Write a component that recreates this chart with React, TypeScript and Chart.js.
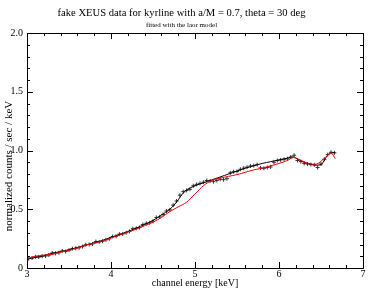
import React, { useEffect, useRef } from "react";
import { Chart, registerables } from "chart.js";

Chart.register(...registerables);

const titleText = "fake XEUS data for kyrline with a/M = 0.7, theta = 30 deg";
const subtitleText = "fitted with the laor model";
const xAxisLabel = "channel energy [keV]";
const yAxisLabel = "normalized counts / sec / keV";

// observed data (crosses)
const energies = [
  3.02, 3.06, 3.1, 3.14, 3.18, 3.22, 3.26, 3.3, 3.34, 3.38, 3.42, 3.46, 3.5, 3.54, 3.58, 3.62,
  3.66, 3.7, 3.74, 3.78, 3.82, 3.86, 3.9, 3.94, 3.98, 4.02, 4.06, 4.1, 4.14, 4.18, 4.22, 4.26,
  4.3, 4.34, 4.38, 4.42, 4.46, 4.5, 4.54, 4.58, 4.62, 4.66, 4.7, 4.74, 4.78, 4.82, 4.86, 4.9,
  4.94, 4.98, 5.02, 5.06, 5.1, 5.14, 5.18, 5.22, 5.26, 5.3, 5.34, 5.38, 5.42, 5.46, 5.5, 5.54,
  5.58, 5.62, 5.66, 5.7, 5.74, 5.78, 5.82, 5.86, 5.9, 5.94, 5.98, 6.02, 6.06, 6.1, 6.14, 6.18,
  6.22, 6.26, 6.3, 6.34, 6.38, 6.42, 6.46, 6.5, 6.54, 6.58, 6.62, 6.66,
];
const counts = [
  0.08, 0.085, 0.095, 0.093, 0.1, 0.102, 0.11, 0.128, 0.125, 0.13, 0.145, 0.14, 0.152, 0.165, 0.168, 0.172,
  0.182, 0.198, 0.2, 0.205, 0.225, 0.222, 0.228, 0.24, 0.248, 0.268, 0.27, 0.288, 0.29, 0.3, 0.312, 0.335,
  0.338, 0.345, 0.37, 0.38, 0.385, 0.398, 0.43, 0.435, 0.455, 0.485, 0.495, 0.535, 0.57, 0.62, 0.65, 0.66,
  0.67, 0.7, 0.712, 0.72, 0.73, 0.745, 0.74, 0.735, 0.745, 0.755, 0.752, 0.76, 0.81, 0.82, 0.822, 0.84,
  0.85, 0.858, 0.868, 0.872, 0.88, 0.852, 0.848, 0.855, 0.86, 0.9, 0.915, 0.92, 0.925, 0.93, 0.945, 0.96,
  0.915, 0.905, 0.89, 0.885, 0.88, 0.878, 0.855, 0.885, 0.925, 0.965, 0.985, 0.98,
];

// black curve
const traceEnergies = [
  3.0, 3.1, 3.2, 3.3, 3.4, 3.5, 3.6, 3.7, 3.8, 3.9, 4.0, 4.1, 4.2, 4.3, 4.4, 4.5, 4.6, 4.7, 4.75,
  4.8, 4.85, 4.9, 5.0, 5.1, 5.2, 5.3, 5.4, 5.5, 5.6, 5.7, 5.8, 5.9, 6.0, 6.1, 6.17, 6.23, 6.3, 6.4,
  6.5, 6.55, 6.6, 6.67,
];
const traceValues = [
  0.075, 0.09, 0.105, 0.125, 0.14, 0.155, 0.175, 0.195, 0.215, 0.235, 0.26, 0.285, 0.31, 0.34,
  0.37, 0.405, 0.45, 0.5, 0.535, 0.58, 0.63, 0.665, 0.7, 0.725, 0.75, 0.775, 0.8, 0.825, 0.85,
  0.87, 0.89, 0.905, 0.92, 0.935, 0.945, 0.925, 0.9, 0.88, 0.88, 0.93, 0.975, 0.985,
];

// red laor model
const laorEnergies = [
  3.0, 3.1, 3.2, 3.3, 3.4, 3.5, 3.6, 3.7, 3.8, 3.9, 4.0, 4.1, 4.2, 4.3, 4.4, 4.5, 4.6, 4.7, 4.8,
  4.9, 5.0, 5.1, 5.2, 5.3, 5.4, 5.5, 5.6, 5.7, 5.8, 5.9, 6.0, 6.1, 6.17, 6.25, 6.35, 6.45, 6.55,
  6.62, 6.67,
];
const laorValues = [
  0.08, 0.1, 0.11, 0.115, 0.135, 0.15, 0.17, 0.195, 0.21, 0.23, 0.255, 0.28, 0.305, 0.33, 0.36,
  0.39, 0.43, 0.48, 0.52, 0.56, 0.63, 0.7, 0.745, 0.765, 0.78, 0.795, 0.815, 0.835, 0.85, 0.87,
  0.89, 0.915, 0.94, 0.92, 0.89, 0.885, 0.94, 0.98, 0.93,
];

const FONT = "'Liberation Serif', 'Times New Roman', serif";

const frameTicks = {
  id: "frameTicks",
  afterDraw(chart: any) {
    const { ctx, chartArea: a, scales } = chart;
    const xs = scales.x;
    const ys = scales.y;
    ctx.save();
    ctx.strokeStyle = "#000";
    ctx.lineWidth = 1;
    ctx.strokeRect(Math.round(a.left) + 0.5, Math.round(a.top) + 0.5, Math.round(a.right - a.left), Math.round(a.bottom - a.top));
    ctx.beginPath();
    for (let i = 0; i <= 20; i++) {
      const v = 3 + i * 0.2;
      const len = i % 5 === 0 ? 6 : 3;
      const px = Math.round(xs.getPixelForValue(v)) + 0.5;
      ctx.moveTo(px, a.bottom);
      ctx.lineTo(px, a.bottom - len);
      ctx.moveTo(px, a.top);
      ctx.lineTo(px, a.top + len);
    }
    for (let i = 0; i <= 20; i++) {
      const v = i * 0.1;
      const len = i % 5 === 0 ? 6 : 3;
      const py = Math.round(ys.getPixelForValue(v)) + 0.5;
      ctx.moveTo(a.left, py);
      ctx.lineTo(a.left + len, py);
      ctx.moveTo(a.right, py);
      ctx.lineTo(a.right - len, py);
    }
    ctx.stroke();
    // y axis title
    ctx.fillStyle = "#000";
    ctx.font = `11px ${FONT}`;
    ctx.textAlign = "center";
    ctx.textBaseline = "middle";
    ctx.translate(9, 166);
    ctx.rotate(-Math.PI / 2);
    ctx.fillText(yAxisLabel, 0, 0);
    ctx.restore();
  },
};

export default function App() {
  const ref = useRef<HTMLCanvasElement>(null);
  useEffect(() => {
    document.body.style.margin = "0";
    const canvas = ref.current!;
    const chart = new Chart(canvas, {
      type: "scatter",
      data: {
        datasets: [
          {
            label: "data",
            data: energies.map((e, i) => ({ x: e, y: counts[i] })),
            showLine: false,
            pointStyle: "cross",
            pointRadius: 2,
            borderColor: "#333",
            borderWidth: 1,
            order: 3,
          },
          {
            label: "trace",
            data: traceEnergies.map((e, i) => ({ x: e, y: traceValues[i] })),
            showLine: true,
            pointRadius: 0,
            borderColor: "#000",
            borderWidth: 1,
            tension: 0.3,
            order: 2,
          },
          {
            label: "laor",
            data: laorEnergies.map((e, i) => ({ x: e, y: laorValues[i] })),
            showLine: true,
            pointRadius: 0,
            borderColor: "#ff0000",
            borderWidth: 1,
            tension: 0.3,
            order: 1,
          },
        ],
      },
      options: {
        animation: false,
        responsive: false,
        maintainAspectRatio: false,
        layout: { padding: { left: 0, right: 5, top: 0, bottom: 0 } },
        plugins: {
          legend: { display: false },
          tooltip: { enabled: false },
          title: {
            display: true,
            text: titleText,
            color: "#000",
            font: { family: FONT, size: 10.6, weight: "normal" },
            padding: { top: 7, bottom: 0 },
          },
          subtitle: {
            display: true,
            text: subtitleText,
            color: "#000",
            font: { family: FONT, size: 7, weight: "normal" },
            padding: { top: 1.5, bottom: 3.4 },
          },
        },
        scales: {
          x: {
            type: "linear",
            min: 3,
            max: 7,
            grid: { display: false, drawTicks: false },
            border: { display: false },
            ticks: {
              stepSize: 1,
              color: "#000",
              font: { family: FONT, size: 10 },
              padding: 0,
              maxRotation: 0,
            },
            title: {
              display: true,
              text: xAxisLabel,
              color: "#000",
              font: { family: FONT, size: 10 },
              padding: { top: 0, bottom: 3 },
            },
            afterFit: (s: any) => {
              s.height = 24;
            },
          },
          y: {
            min: 0,
            max: 2,
            grid: { display: false, drawTicks: false },
            border: { display: false },
            ticks: {
              stepSize: 0.5,
              color: "#000",
              font: { family: FONT, size: 10 },
              padding: 4,
            },
            afterFit: (s: any) => {
              s.width = 27;
            },
          },
        },
      },
      plugins: [frameTicks],
    });
    return () => chart.destroy();
  }, []);
  return (
    <div style={{ width: 368, height: 292 }}>
      <canvas ref={ref} width={368} height={292} />
    </div>
  );
}
